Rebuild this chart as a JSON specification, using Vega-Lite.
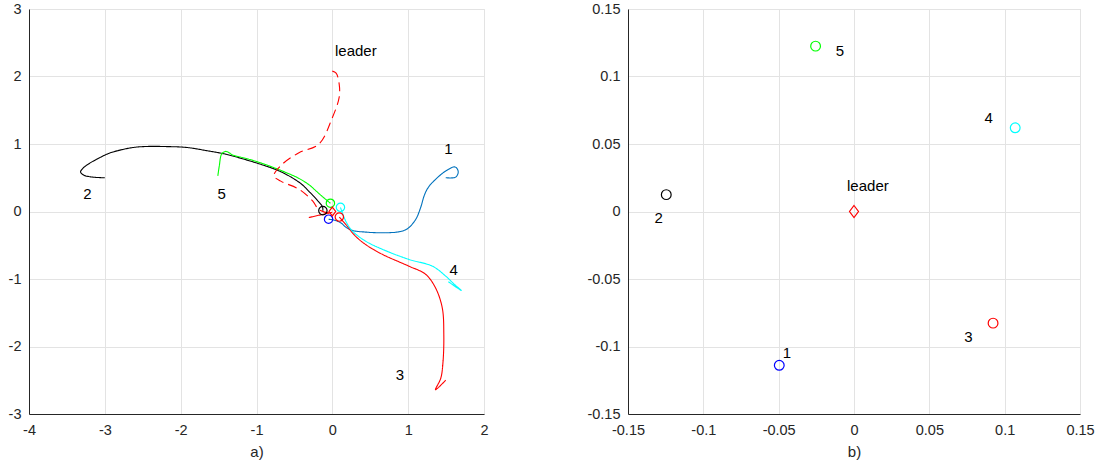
{
  "$schema": "https://vega.github.io/schema/vega-lite/v6.json",
  "padding": {"left": 7, "top": 0, "right": 5, "bottom": 5},
  "background": "white",
  "spacing": 97,
  "config": {
    "locale": {"number": {"decimal": ".", "thousands": ",", "grouping": [3], "currency": ["$", ""], "minus": "-"}},
    "view": {"stroke": "#e3e3e3"},
    "axis": {
      "domainColor": "#262626",
      "gridColor": "#e3e3e3",
      "ticks": false,
      "labelFlush": false,
      "labelFont": "Liberation Sans",
      "labelFontSize": 14.5,
      "labelColor": "#262626",
      "titleFont": "Liberation Sans",
      "titleFontSize": 15,
      "titleFontWeight": "normal",
      "titleColor": "#262626",
      "titlePadding": 8
    },
    "axisX": {"labelPadding": 9},
    "axisY": {"labelPadding": 8},
    "text": {"font": "Liberation Sans", "fontSize": 15, "color": "#000000"}
  },
  "datasets": {
    "paths": [
      {"agent": "1", "k": 0, "x": 1.495, "y": 0.5},
      {"agent": "1", "k": 1, "x": 1.627, "y": 0.51},
      {"agent": "1", "k": 2, "x": 1.66, "y": 0.59},
      {"agent": "1", "k": 3, "x": 1.62, "y": 0.66},
      {"agent": "1", "k": 4, "x": 1.495, "y": 0.6},
      {"agent": "1", "k": 5, "x": 1.32, "y": 0.43},
      {"agent": "1", "k": 6, "x": 1.25, "y": 0.33},
      {"agent": "1", "k": 7, "x": 1.21, "y": 0.23},
      {"agent": "1", "k": 8, "x": 1.165, "y": 0.06},
      {"agent": "1", "k": 9, "x": 1.1, "y": -0.116},
      {"agent": "1", "k": 10, "x": 0.99, "y": -0.255},
      {"agent": "1", "k": 11, "x": 0.88, "y": -0.3},
      {"agent": "1", "k": 12, "x": 0.66, "y": -0.315},
      {"agent": "1", "k": 13, "x": 0.44, "y": -0.305},
      {"agent": "1", "k": 14, "x": 0.264, "y": -0.28},
      {"agent": "1", "k": 15, "x": 0.176, "y": -0.23},
      {"agent": "1", "k": 16, "x": 0.11, "y": -0.166},
      {"agent": "1", "k": 17, "x": 0.03, "y": -0.13},
      {"agent": "1", "k": 18, "x": -0.05, "y": -0.114},

      {"agent": "2", "k": 0, "x": -3.0, "y": 0.5},
      {"agent": "2", "k": 1, "x": -3.165, "y": 0.51},
      {"agent": "2", "k": 2, "x": -3.28, "y": 0.54},
      {"agent": "2", "k": 3, "x": -3.32, "y": 0.585},
      {"agent": "2", "k": 4, "x": -3.29, "y": 0.64},
      {"agent": "2", "k": 5, "x": -3.2, "y": 0.715},
      {"agent": "2", "k": 6, "x": -3.08, "y": 0.79},
      {"agent": "2", "k": 7, "x": -2.95, "y": 0.86},
      {"agent": "2", "k": 8, "x": -2.78, "y": 0.915},
      {"agent": "2", "k": 9, "x": -2.6, "y": 0.952},
      {"agent": "2", "k": 10, "x": -2.4, "y": 0.965},
      {"agent": "2", "k": 11, "x": -2.2, "y": 0.962},
      {"agent": "2", "k": 12, "x": -1.93, "y": 0.95},
      {"agent": "2", "k": 13, "x": -1.65, "y": 0.9},
      {"agent": "2", "k": 14, "x": -1.41, "y": 0.85},
      {"agent": "2", "k": 15, "x": -1.15, "y": 0.77},
      {"agent": "2", "k": 16, "x": -0.88, "y": 0.675},
      {"agent": "2", "k": 17, "x": -0.7, "y": 0.6},
      {"agent": "2", "k": 18, "x": -0.53, "y": 0.5},
      {"agent": "2", "k": 19, "x": -0.4, "y": 0.4},
      {"agent": "2", "k": 20, "x": -0.31, "y": 0.3},
      {"agent": "2", "k": 21, "x": -0.2, "y": 0.17},
      {"agent": "2", "k": 22, "x": -0.13, "y": 0.07},
      {"agent": "2", "k": 23, "x": -0.125, "y": 0.012},

      {"agent": "3", "k": 0, "x": 1.495, "y": -2.5},
      {"agent": "3", "k": 1, "x": 1.36, "y": -2.64},
      {"agent": "3", "k": 2, "x": 1.43, "y": -2.47},
      {"agent": "3", "k": 3, "x": 1.46, "y": -2.22},
      {"agent": "3", "k": 4, "x": 1.47, "y": -1.82},
      {"agent": "3", "k": 5, "x": 1.45, "y": -1.43},
      {"agent": "3", "k": 6, "x": 1.36, "y": -1.13},
      {"agent": "3", "k": 7, "x": 1.23, "y": -0.93},
      {"agent": "3", "k": 8, "x": 1.01, "y": -0.81},
      {"agent": "3", "k": 9, "x": 0.66, "y": -0.635},
      {"agent": "3", "k": 10, "x": 0.44, "y": -0.49},
      {"agent": "3", "k": 11, "x": 0.3, "y": -0.36},
      {"agent": "3", "k": 12, "x": 0.176, "y": -0.19},
      {"agent": "3", "k": 13, "x": 0.092, "y": -0.083},

      {"agent": "4", "k": 0, "x": 1.53, "y": -1.04},
      {"agent": "4", "k": 1, "x": 1.7, "y": -1.17},
      {"agent": "4", "k": 2, "x": 1.6, "y": -1.07},
      {"agent": "4", "k": 3, "x": 1.495, "y": -0.957},
      {"agent": "4", "k": 4, "x": 1.32, "y": -0.81},
      {"agent": "4", "k": 5, "x": 1.01, "y": -0.71},
      {"agent": "4", "k": 6, "x": 0.66, "y": -0.56},
      {"agent": "4", "k": 7, "x": 0.44, "y": -0.44},
      {"agent": "4", "k": 8, "x": 0.264, "y": -0.29},
      {"agent": "4", "k": 9, "x": 0.18, "y": -0.15},
      {"agent": "4", "k": 10, "x": 0.107, "y": 0.062},

      {"agent": "5", "k": 0, "x": -1.51, "y": 0.527},
      {"agent": "5", "k": 1, "x": -1.49, "y": 0.68},
      {"agent": "5", "k": 2, "x": -1.46, "y": 0.85},
      {"agent": "5", "k": 3, "x": -1.41, "y": 0.89},
      {"agent": "5", "k": 4, "x": -1.36, "y": 0.87},
      {"agent": "5", "k": 5, "x": -1.32, "y": 0.84},
      {"agent": "5", "k": 6, "x": -1.1, "y": 0.775},
      {"agent": "5", "k": 7, "x": -0.88, "y": 0.695},
      {"agent": "5", "k": 8, "x": -0.66, "y": 0.6},
      {"agent": "5", "k": 9, "x": -0.44, "y": 0.49},
      {"agent": "5", "k": 10, "x": -0.3, "y": 0.39},
      {"agent": "5", "k": 11, "x": -0.22, "y": 0.31},
      {"agent": "5", "k": 12, "x": -0.14, "y": 0.23},
      {"agent": "5", "k": 13, "x": -0.066, "y": 0.16},
      {"agent": "5", "k": 14, "x": -0.025, "y": 0.122},

      {"agent": "leader", "k": 0, "x": 0.0, "y": 2.08},
      {"agent": "leader", "k": 1, "x": 0.05, "y": 2.05},
      {"agent": "leader", "k": 2, "x": 0.09, "y": 1.89},
      {"agent": "leader", "k": 3, "x": 0.09, "y": 1.69},
      {"agent": "leader", "k": 4, "x": 0.0, "y": 1.39},
      {"agent": "leader", "k": 5, "x": -0.176, "y": 1.0},
      {"agent": "leader", "k": 6, "x": -0.44, "y": 0.87},
      {"agent": "leader", "k": 7, "x": -0.66, "y": 0.7},
      {"agent": "leader", "k": 8, "x": -0.77, "y": 0.53},
      {"agent": "leader", "k": 9, "x": -0.68, "y": 0.45},
      {"agent": "leader", "k": 10, "x": -0.44, "y": 0.33},
      {"agent": "leader", "k": 11, "x": -0.26, "y": 0.156},
      {"agent": "leader", "k": 12, "x": -0.18, "y": 0.03},
      {"agent": "leader", "k": 13, "x": -0.05, "y": -0.02},
      {"agent": "leader", "k": 14, "x": 0.0, "y": 0.0},

      {"agent": "arrow", "k": 0, "x": -0.31, "y": -0.09},
      {"agent": "arrow", "k": 1, "x": 0.0, "y": -0.01}
    ],
    "final": [
      {"agent": "1", "x": -0.0496, "y": -0.1139},
      {"agent": "2", "x": -0.1246, "y": 0.0125},
      {"agent": "3", "x": 0.0923, "y": -0.0827},
      {"agent": "4", "x": 0.107, "y": 0.062},
      {"agent": "5", "x": -0.0255, "y": 0.1225}
    ],
    "leaderPos": [
      {"agent": "leader", "x": 0, "y": 0}
    ],
    "labelsA": [
      {"label": "leader", "x": 0.31, "y": 2.38},
      {"label": "1", "x": 1.53, "y": 0.93},
      {"label": "2", "x": -3.23, "y": 0.255},
      {"label": "3", "x": 0.89, "y": -2.42},
      {"label": "4", "x": 1.6, "y": -0.87},
      {"label": "5", "x": -1.46, "y": 0.26}
    ],
    "labelsB": [
      {"label": "leader", "x": 0.0092, "y": 0.0187},
      {"label": "1", "x": -0.0445, "y": -0.1047},
      {"label": "2", "x": -0.1297, "y": -0.0046},
      {"label": "3", "x": 0.0759, "y": -0.0931},
      {"label": "4", "x": 0.0894, "y": 0.069},
      {"label": "5", "x": -0.0094, "y": 0.1186}
    ]
  },
  "hconcat": [
    {
      "width": 455,
      "height": 405,
      "layer": [
        {
          "data": {"name": "paths"},
          "mark": {"type": "line", "strokeWidth": 1.1, "interpolate": "catmull-rom"},
          "encoding": {
            "x": {"field": "x", "type": "quantitative", "scale": {"domain": [-4, 2], "nice": false, "zero": false},
                  "axis": {"values": [-4, -3, -2, -1, 0, 1, 2], "title": "a)", "format": "~g"}},
            "y": {"field": "y", "type": "quantitative", "scale": {"domain": [-3, 3], "nice": false, "zero": false},
                  "axis": {"values": [-3, -2, -1, 0, 1, 2, 3], "title": null, "format": "~g"}},
            "order": {"field": "k", "type": "quantitative"},
            "detail": {"field": "agent", "type": "nominal"},
            "color": {"field": "agent", "type": "nominal", "legend": null,
                      "scale": {"domain": ["1", "2", "3", "4", "5", "leader", "arrow"],
                                "range": ["#0072BD", "#000000", "#ff0000", "#00ffff", "#00ff00", "#ff0000", "#ff0000"]}},
            "strokeDash": {"field": "agent", "type": "nominal", "legend": null,
                           "scale": {"domain": ["1", "2", "3", "4", "5", "leader", "arrow"],
                                     "range": [[1, 0], [1, 0], [1, 0], [1, 0], [1, 0], [9, 5], [1, 0]]}}
          }
        },
        {
          "data": {"name": "final"},
          "mark": {"type": "point", "shape": "circle", "filled": false, "size": 70, "strokeWidth": 1.2, "opacity": 1},
          "encoding": {
            "x": {"field": "x", "type": "quantitative"},
            "y": {"field": "y", "type": "quantitative"},
            "stroke": {"field": "agent", "type": "nominal", "legend": null,
                       "scale": {"domain": ["1", "2", "3", "4", "5"],
                                 "range": ["#0000ff", "#000000", "#ff0000", "#00ffff", "#00ff00"]}}
          }
        },
        {
          "data": {"name": "leaderPos"},
          "mark": {"type": "point", "shape": "M0,-1L0.75,0L0,1L-0.75,0Z", "filled": false, "size": 80, "strokeWidth": 1.2, "color": "#ff0000", "opacity": 1},
          "encoding": {
            "x": {"field": "x", "type": "quantitative"},
            "y": {"field": "y", "type": "quantitative"}
          }
        },
        {
          "data": {"name": "labelsA"},
          "mark": {"type": "text", "align": "center", "baseline": "middle"},
          "encoding": {
            "x": {"field": "x", "type": "quantitative"},
            "y": {"field": "y", "type": "quantitative"},
            "text": {"field": "label", "type": "nominal"}
          }
        }
      ]
    },
    {
      "width": 452,
      "height": 405,
      "layer": [
        {
          "data": {"name": "final"},
          "mark": {"type": "point", "shape": "circle", "filled": false, "size": 95, "strokeWidth": 1.2, "opacity": 1},
          "encoding": {
            "x": {"field": "x", "type": "quantitative", "scale": {"domain": [-0.15, 0.15], "nice": false, "zero": false},
                  "axis": {"values": [-0.15, -0.1, -0.05, 0, 0.05, 0.1, 0.15], "title": "b)", "format": "~g"}},
            "y": {"field": "y", "type": "quantitative", "scale": {"domain": [-0.15, 0.15], "nice": false, "zero": false},
                  "axis": {"values": [-0.15, -0.1, -0.05, 0, 0.05, 0.1, 0.15], "title": null, "format": "~g"}},
            "stroke": {"field": "agent", "type": "nominal", "legend": null,
                       "scale": {"domain": ["1", "2", "3", "4", "5"],
                                 "range": ["#0000ff", "#000000", "#ff0000", "#00ffff", "#00ff00"]}}
          }
        },
        {
          "data": {"name": "leaderPos"},
          "mark": {"type": "point", "shape": "M0,-1L0.75,0L0,1L-0.75,0Z", "filled": false, "size": 144, "strokeWidth": 1.2, "color": "#ff0000", "opacity": 1},
          "encoding": {
            "x": {"field": "x", "type": "quantitative"},
            "y": {"field": "y", "type": "quantitative"}
          }
        },
        {
          "data": {"name": "labelsB"},
          "mark": {"type": "text", "align": "center", "baseline": "middle"},
          "encoding": {
            "x": {"field": "x", "type": "quantitative"},
            "y": {"field": "y", "type": "quantitative"},
            "text": {"field": "label", "type": "nominal"}
          }
        }
      ]
    }
  ]
}
